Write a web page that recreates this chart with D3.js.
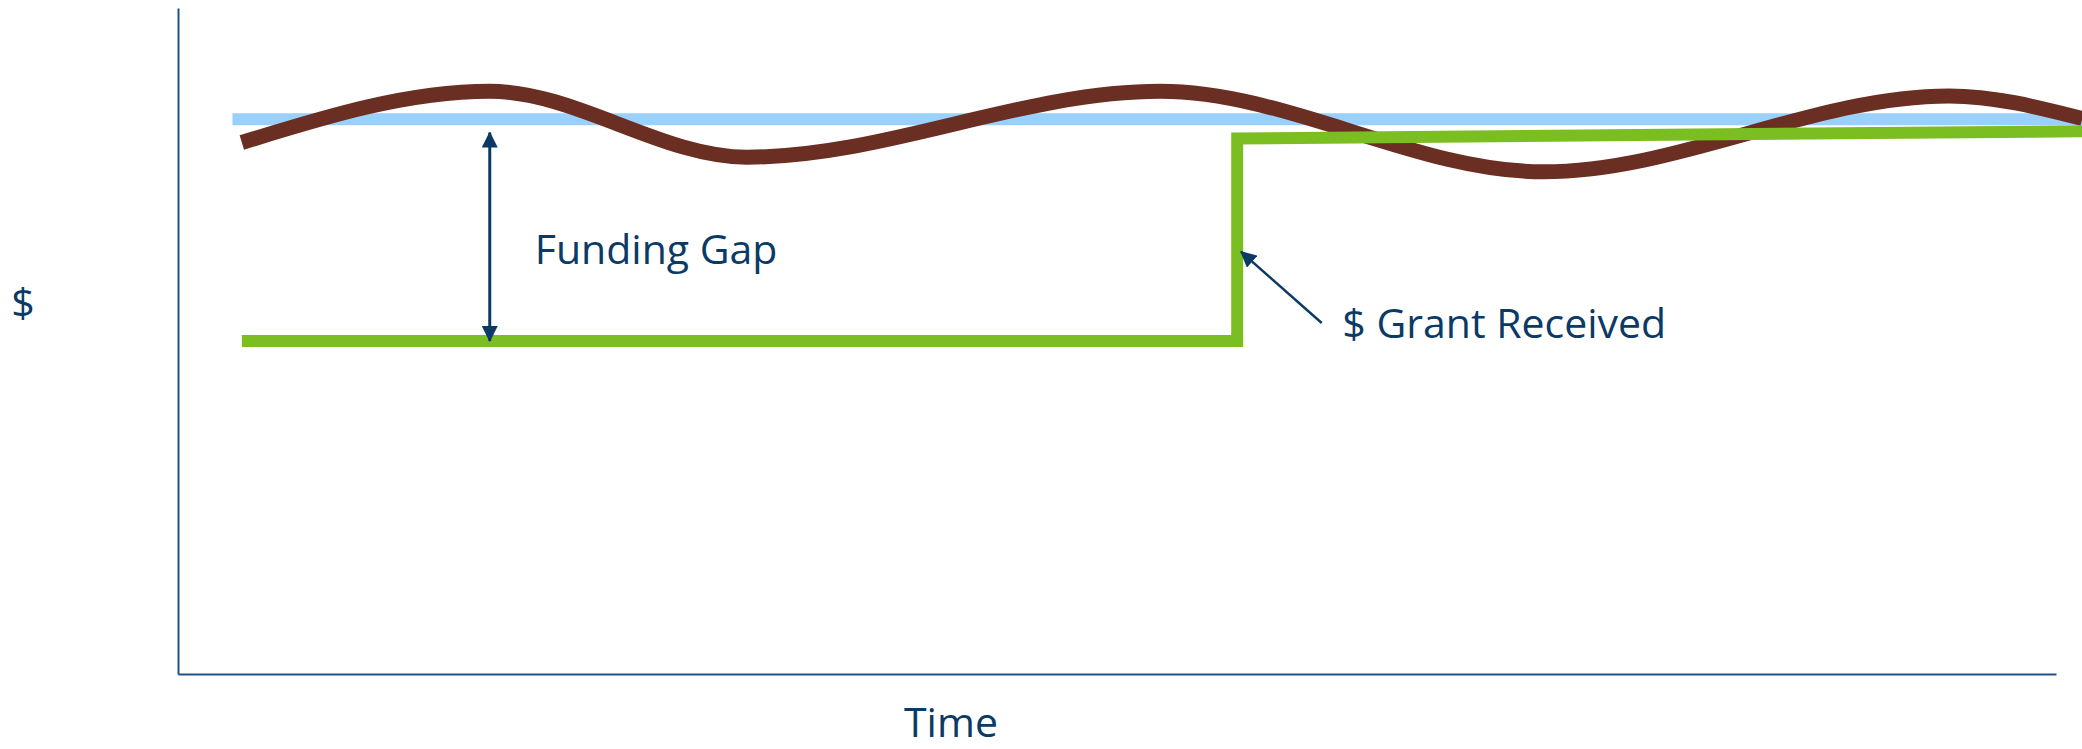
<!DOCTYPE html>
<html>
<head>
<meta charset="utf-8">
<script src="https://cdn.jsdelivr.net/npm/d3@7"></script>
<style>
  html, body { margin: 0; padding: 0; background: #ffffff; }
  svg { display: block; }
  text { font-family: "Open Sans", "Noto Sans", sans-serif; fill: #0b3a66; }
</style>
</head>
<body>
<svg id="chart" width="2082" height="749"></svg>
<script>
// ---- data (x = time units 0..100, y = $ units 0..100) ----
const costTime  = [3.4, 16.6, 30.3, 52.3, 72.7, 94.3, 101.4];
const costValue = [79.8, 87.5, 77.6, 87.5, 75.4, 86.8, 83.4];

const budgetTime  = [2.9, 101.4];
const budgetValue = [83.3, 83.3];

const fundingTime  = [3.4, 56.4, 56.4, 101.4];
const fundingValue = [50.0, 50.0, 80.4, 81.5];

const gapArrow   = { time: 16.6, from: 50.0, to: 81.3, label: "Funding Gap", labelTime: 19.0, labelValue: 61.5 };
const grantArrow = { fromTime: 60.9, fromValue: 52.7, toTime: 56.6, toValue: 63.4, label: "$ Grant Received", labelTime: 62.0, labelValue: 50.5 };

const xLabel = "Time";
const yLabel = "$";

// ---- layout ----
const svg = d3.select("#chart");
const x = d3.scaleLinear().domain([0, 100]).range([178, 2056]);
const y = d3.scaleLinear().domain([0, 100]).range([674, 8]);

const navy = "#0b3a66";
const axisColor = "#1f5088";

// arrow marker
const defs = svg.append("defs");
defs.append("marker")
  .attr("id", "arrowhead")
  .attr("viewBox", "0 0 16 16")
  .attr("refX", 15).attr("refY", 8)
  .attr("markerWidth", 16).attr("markerHeight", 16)
  .attr("markerUnits", "userSpaceOnUse")
  .attr("orient", "auto-start-reverse")
  .append("path")
  .attr("d", "M0,0 L16,8 L0,16 Z")
  .attr("fill", navy);

// axes (plain lines, no ticks)
const xAxis = d3.axisBottom(x).tickValues([]).tickSizeOuter(0);
const yAxis = d3.axisLeft(y).tickValues([]).tickSizeOuter(0);
svg.append("g").attr("transform", `translate(0,${y(0)})`).call(xAxis)
  .select(".domain").attr("stroke", axisColor).attr("stroke-width", 2);
svg.append("g").attr("transform", `translate(${x(0)},0)`).call(yAxis)
  .select(".domain").attr("stroke", axisColor).attr("stroke-width", 2);

// budget (light blue)
const straight = d3.line().x(d => x(d[0])).y(d => y(d[1]));
svg.append("path")
  .datum(d3.zip(budgetTime, budgetValue))
  .attr("d", straight)
  .attr("fill", "none")
  .attr("stroke", "#99d1fc")
  .attr("stroke-width", 12);

// cost curve (brown)
const curve = d3.line().x(d => x(d[0])).y(d => y(d[1])).curve(d3.curveMonotoneX);
svg.append("path")
  .datum(d3.zip(costTime, costValue))
  .attr("d", curve)
  .attr("fill", "none")
  .attr("stroke", "#6b2e22")
  .attr("stroke-width", 15);

// funding (green step)
svg.append("path")
  .datum(d3.zip(fundingTime, fundingValue))
  .attr("d", straight)
  .attr("fill", "none")
  .attr("stroke", "#7abe22")
  .attr("stroke-width", 12)
  .attr("stroke-linejoin", "miter");

// funding gap double arrow
svg.append("line")
  .attr("x1", x(gapArrow.time)).attr("y1", y(gapArrow.from))
  .attr("x2", x(gapArrow.time)).attr("y2", y(gapArrow.to))
  .attr("stroke", navy).attr("stroke-width", 3)
  .attr("marker-start", "url(#arrowhead)")
  .attr("marker-end", "url(#arrowhead)");

svg.append("text")
  .attr("x", x(gapArrow.labelTime)).attr("y", y(gapArrow.labelValue))
  .attr("font-size", 41)
  .text(gapArrow.label);

// grant arrow
svg.append("line")
  .attr("x1", x(grantArrow.fromTime)).attr("y1", y(grantArrow.fromValue))
  .attr("x2", x(grantArrow.toTime)).attr("y2", y(grantArrow.toValue))
  .attr("stroke", navy).attr("stroke-width", 2.5)
  .attr("marker-end", "url(#arrowhead)");

svg.append("text")
  .attr("x", x(grantArrow.labelTime)).attr("y", y(grantArrow.labelValue))
  .attr("font-size", 41)
  .text(grantArrow.label);

// axis labels
svg.append("text")
  .attr("x", 951).attr("y", 737)
  .attr("text-anchor", "middle")
  .attr("font-size", 41)
  .text(xLabel);

svg.append("text")
  .attr("x", 23).attr("y", 317)
  .attr("text-anchor", "middle")
  .attr("font-size", 41)
  .text(yLabel);
</script>
</body>
</html>
